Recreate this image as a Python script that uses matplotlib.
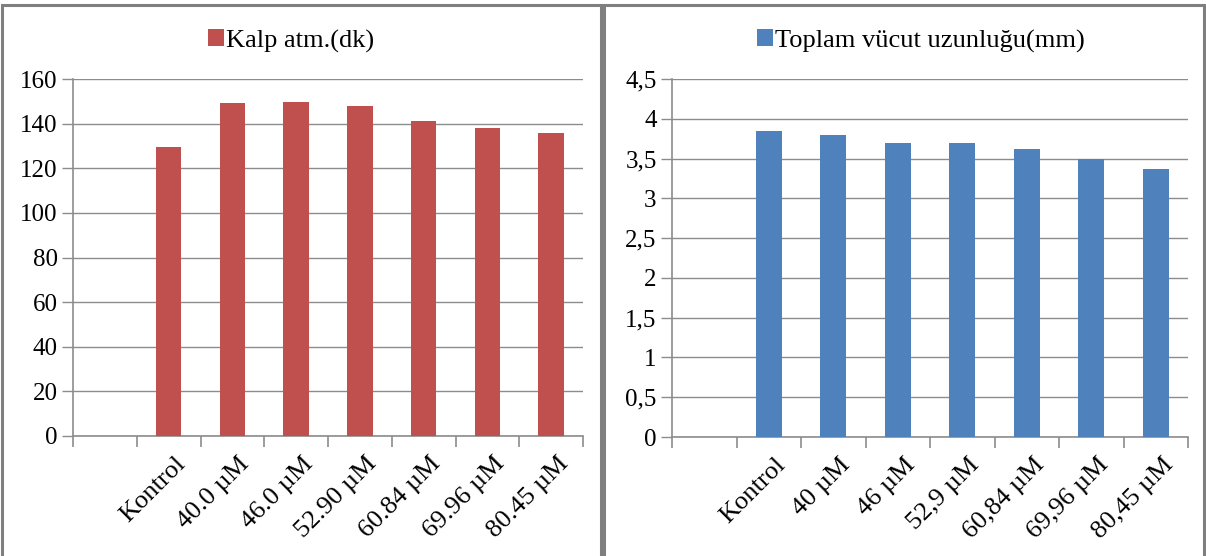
import matplotlib
matplotlib.use("Agg")
import matplotlib.pyplot as plt
from matplotlib.patches import Rectangle
import matplotlib.transforms as mtransforms

W, H = 1206, 556

categories_left = ["", "Kontrol", "40.0 µM", "46.0 µM", "52.90 µM", "60.84 µM", "69.96 µM", "80.45 µM"]
values_left = [None, 129.5, 149.3, 149.9, 147.7, 141.3, 137.9, 135.6]
legend_left = "Kalp atm.(dk)"
yticks_left = [0, 20, 40, 60, 80, 100, 120, 140, 160]
ylabels_left = ["0", "20", "40", "60", "80", "100", "120", "140", "160"]

categories_right = ["", "Kontrol", "40 µM", "46 µM", "52,9 µM", "60,84 µM", "69,96 µM", "80,45 µM"]
values_right = [None, 3.845, 3.80, 3.70, 3.70, 3.62, 3.495, 3.37]
legend_right = "Toplam vücut uzunluğu(mm)"
yticks_right = [0, 0.5, 1, 1.5, 2, 2.5, 3, 3.5, 4, 4.5]
ylabels_right = ["0", "0,5", "1", "1,5", "2", "2,5", "3", "3,5", "4", "4,5"]

RED = "#C0504D"
BLUE = "#4F81BD"
GRID = "#8C8C8C"

plt.rcParams['font.family'] = ['Liberation Serif', 'DejaVu Serif']

fig = plt.figure(figsize=(W / 100, H / 100), dpi=100)


def px_axes(x0, x1, ytop, ybot):
    return fig.add_axes([x0 / W, (H - ybot) / H, (x1 - x0) / W, (ybot - ytop) / H])


def draw(ax, cats, vals, color, yticks, ylabels, legend, ymax, leg_x):
    n = len(cats)
    xs = [i for i in range(n) if vals[i] is not None]
    hs = [vals[i] for i in xs]
    bars = ax.bar(xs, hs, width=0.4, color=color, zorder=3, label=legend)
    ax.set_xlim(-0.5, n - 0.5)
    ax.set_ylim(0, ymax)
    ax.set_yticks(yticks)
    ax.set_yticklabels(ylabels, fontsize=18)
    ax.yaxis.grid(True, color=GRID, linewidth=1.0, zorder=0)
    ax.set_axisbelow(True)
    for s in ["top", "right"]:
        ax.spines[s].set_visible(False)
    for s in ["left", "bottom"]:
        ax.spines[s].set_color(GRID)
        ax.spines[s].set_linewidth(1.2)
    ax.tick_params(axis='y', length=8, color=GRID, width=1.0, pad=3)
    ax.set_xticks([i - 0.5 for i in range(n + 1)], minor=False)
    ax.set_xticklabels([""] * (n + 1))
    ax.tick_params(axis='x', length=8, color=GRID, width=1.2)
    ax.set_xticks(range(n), minor=True)
    ax.set_xticklabels(cats, minor=True, rotation=45, ha='right', va='top',
                       rotation_mode='anchor', fontsize=19)
    ax.tick_params(axis='x', which='minor', length=0, pad=12)
    offset = mtransforms.ScaledTranslation(6 / 100, 0, fig.dpi_scale_trans)
    for lbl in ax.get_xticklabels(minor=True):
        lbl.set_transform(lbl.get_transform() + offset)
    fig.legend(handles=[bars], labels=[legend], loc='center left',
               bbox_to_anchor=(leg_x / W, 1 - 41 / H), frameon=False, fontsize=19,
               handlelength=0.6, handleheight=0.6, handletextpad=0.1,
               borderaxespad=0, borderpad=0)
    return ax


axL = px_axes(73, 583, 79, 436)
draw(axL, categories_left, values_left, RED, yticks_left, ylabels_left, legend_left, 160, 208)

axR = px_axes(672, 1188, 79, 437)
draw(axR, categories_right, values_right, BLUE, yticks_right, ylabels_right, legend_right, 4.5, 757)

for (x0, x1) in [(2, 601), (604, 1204)]:
    fig.add_artist(Rectangle((x0 / W, -0.05), (x1 - x0) / W, (H - 5) / H + 0.05,
                             transform=fig.transFigure, fill=False,
                             edgecolor="#7F7F7F", linewidth=2.2))

fig.savefig("out.png", dpi=100)
